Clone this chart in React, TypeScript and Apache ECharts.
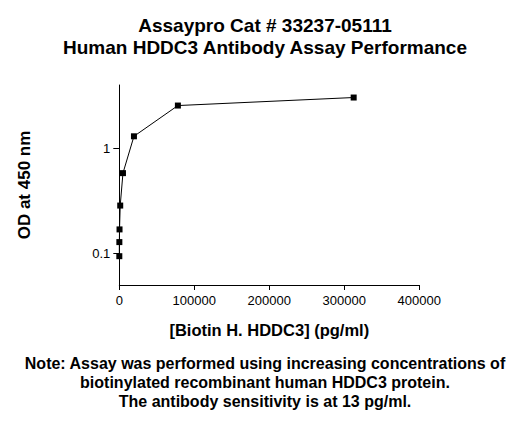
import * as echarts from 'echarts';
import { useEffect, useRef } from 'react';

const concentrations = [19, 76, 305, 1221, 4883, 19531, 78125, 312500];
const odValues = [0.094, 0.128, 0.169, 0.285, 0.58, 1.3, 2.55, 3.04];
const xTicks = [0, 100000, 200000, 300000, 400000];
const yTicks = [0.1, 1];

const titleLines = ['Assaypro Cat # 33237-05111', 'Human HDDC3 Antibody Assay Performance'];
const noteLines = [
  'Note: Assay was performed using increasing concentrations of',
  'biotinylated recombinant human HDDC3 protein.',
  'The antibody sensitivity is at 13 pg/ml.',
];

const FONT = '"Liberation Sans", Arial, sans-serif';

const App = () => {
  const chartRef = useRef<HTMLDivElement>(null);

  useEffect(() => {
    if (!chartRef.current) return;
    const chart = echarts.init(chartRef.current, undefined, { renderer: 'svg' });

    const option: echarts.EChartsOption = {
      animation: false,
      backgroundColor: '#ffffff',
      textStyle: { fontFamily: FONT },
      title: [
        {
          text: titleLines.join('\n'),
          left: 'center',
          top: 14,
          padding: 0,
          textStyle: {
            fontFamily: FONT,
            fontSize: 19,
            fontWeight: 'bold',
            color: '#000',
            lineHeight: 22,
          },
        },
        {
          // note below the chart
          text: noteLines.join('\n'),
          left: 'center',
          top: 354,
          padding: 0,
          textStyle: {
            fontFamily: FONT,
            fontSize: 16,
            fontWeight: 'bold',
            color: '#000',
            lineHeight: 19,
          },
        },
      ],
      grid: { left: 119.3, right: 110.7, top: 85, bottom: 140, containLabel: false },
      xAxis: {
        type: 'value',
        min: 0,
        max: 400000,
        interval: 100000,
        name: '[Biotin H. HDDC3] (pg/ml)',
        nameLocation: 'middle',
        nameGap: 36,
        nameTextStyle: { fontFamily: FONT, fontSize: 16.5, fontWeight: 'bold', color: '#000' },
        axisLine: { lineStyle: { color: '#000', width: 1 } },
        axisTick: { show: true, inside: false, length: 5, lineStyle: { color: '#000' } },
        axisLabel: {
          fontFamily: FONT,
          fontSize: 13,
          color: '#000',
          margin: 9,
          formatter: (v: number) => String(v),
        },
        splitLine: { show: false },
      },
      yAxis: {
        type: 'log',
        logBase: 10,
        min: 0.05,
        max: 4,
        name: 'OD at 450 nm',
        nameLocation: 'middle',
        nameGap: 86,
        nameRotate: 90,
        nameTextStyle: { fontFamily: FONT, fontSize: 17, fontWeight: 'bold', color: '#000' },
        axisLine: { show: true, lineStyle: { color: '#000', width: 1 } },
        axisTick: { show: true, length: 6, customValues: yTicks, lineStyle: { color: '#000' } },
        axisLabel: {
          customValues: yTicks,
          fontFamily: FONT,
          fontSize: 13,
          color: '#000',
          margin: 9,
          formatter: (v: number) => String(v),
        },
        minorTick: { show: false },
        splitLine: { show: false },
      },
      series: [
        {
          type: 'line',
          data: concentrations.map((c, i) => [c, odValues[i]]),
          symbol: 'rect',
          symbolSize: 6,
          lineStyle: { color: '#000', width: 1 },
          itemStyle: { color: '#000' },
        },
      ],
    };

    chart.setOption(option);
    return () => chart.dispose();
  }, []);

  return (
    <div
      ref={chartRef}
      style={{ position: 'absolute', left: 0, top: 0, width: 530, height: 425 }}
    />
  );
};

export default App;
